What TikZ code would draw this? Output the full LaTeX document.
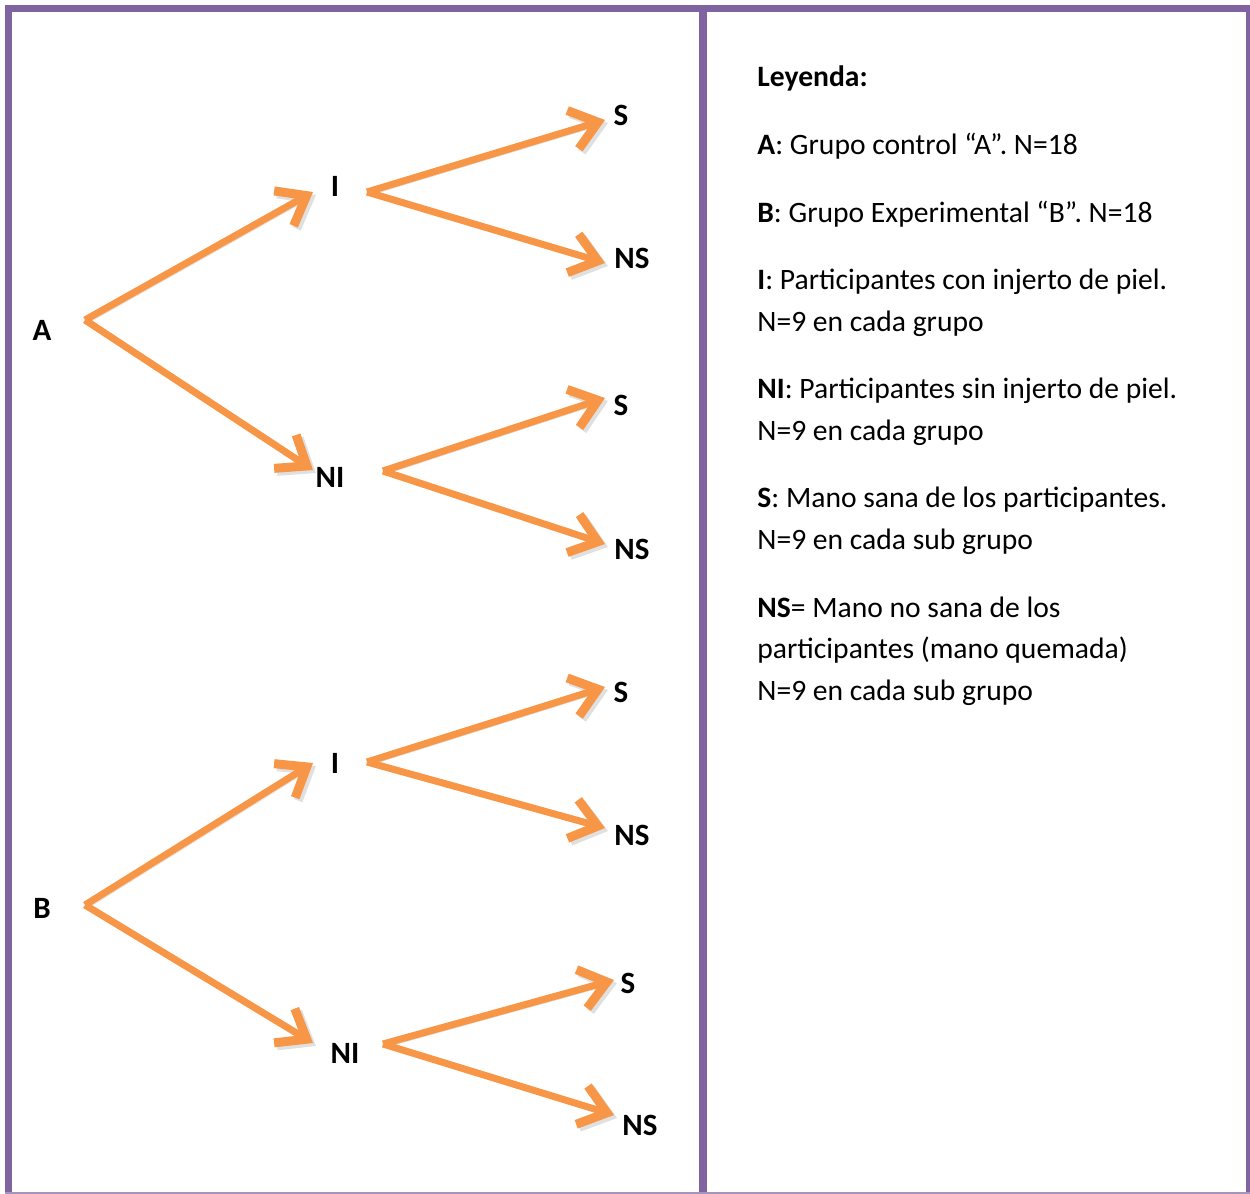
\documentclass[tikz,border=0pt]{standalone}
\usepackage{fontspec}
\setmainfont{Carlito}
\usepackage{xcolor}
\usetikzlibrary{arrows.meta}
\definecolor{marco}{HTML}{8064A2}
\definecolor{flecha}{HTML}{F79646}

\begin{document}
\begin{tikzpicture}[x=0.5pt,y=-0.5pt,
  branch/.style={flecha,line width=3.5pt,
    -{Straight Barb[length=13pt,width=20pt,line width=4.5pt]},
    preaction={draw=black!12,transform canvas={shift={(1.5pt,-1.5pt)}}}},
  lbl/.style={font=\fontsize{15.5}{18}\selectfont\bfseries,inner sep=0pt},
  legend/.style={font=\fontsize{14.8}{20.75}\selectfont,anchor=base west,align=left,inner sep=0pt}]
\useasboundingbox (0,0) rectangle (1250,1194);
%\draw[help lines] (0,0) grid (1250,1194);
% marco
\draw[marco,line width=3.5pt] (8.5,1194) -- (8.5,8.5) -- (1249,8.5) -- (1249,1194);
\draw[marco,line width=4pt] (703,8.5) -- (703,1194);
\draw[marco!70,line width=1pt] (5,1193) -- (1250,1193);
%a
\node[lbl] (A) at (42,330) {A};
\node[lbl] (AI) at (335,186) {I};
\node[lbl] (ANI) at (330,477) {NI};
\node[lbl] (AIS) at (621,115) {S};
\node[lbl] (AINS) at (632,258) {NS};
\node[lbl] (ANIS) at (621,405) {S};
\node[lbl] (ANINS) at (632,549) {NS};
\coordinate (a_0) at (85,320);
\coordinate (a_1) at (313,192);
\coordinate (a_2) at (313,470);
\coordinate (a_3) at (367,192);
\coordinate (a_4) at (605,120);
\coordinate (a_5) at (605,263);
\coordinate (a_6) at (383,471);
\coordinate (a_7) at (605,398);
\coordinate (a_8) at (605,544);
\draw[branch] (a_0) -- (a_1);
\draw[branch] (a_0) -- (a_2);
\draw[branch] (a_3) -- (a_4);
\draw[branch] (a_3) -- (a_5);
\draw[branch] (a_6) -- (a_7);
\draw[branch] (a_6) -- (a_8);
%b
\node[lbl] (B) at (42,908) {B};
\node[lbl] (BI) at (335,763) {I};
\node[lbl] (BNI) at (345,1053) {NI};
\node[lbl] (BIS) at (621,692) {S};
\node[lbl] (BINS) at (632,835) {NS};
\node[lbl] (BNIS) at (628,983) {S};
\node[lbl] (BNINS) at (640,1125) {NS};
\coordinate (b_0) at (85,905);
\coordinate (b_1) at (313,763);
\coordinate (b_2) at (313,1043);
\coordinate (b_3) at (367,762);
\coordinate (b_4) at (605,687);
\coordinate (b_5) at (605,828);
\coordinate (b_6) at (383,1044);
\coordinate (b_7) at (614,980);
\coordinate (b_8) at (614,1115);
\draw[branch] (b_0) -- (b_1);
\draw[branch] (b_0) -- (b_2);
\draw[branch] (b_3) -- (b_4);
\draw[branch] (b_3) -- (b_5);
\draw[branch] (b_6) -- (b_7);
\draw[branch] (b_6) -- (b_8);
% leyenda (base = ultima linea)
\node[legend] (ley) at (757,86) {\textbf{Leyenda:}};
\node[legend] (leyA) at (757,154) {\textbf{A}: Grupo control “A”. N=18};
\node[legend] (leyB) at (757,222) {\textbf{B}: Grupo Experimental “B”. N=18};
\node[legend] (leyI) at (757,331) {\textbf{I}: Participantes con injerto de piel.\\N=9 en cada grupo};
\node[legend] (leyNI) at (757,440) {\textbf{NI}: Participantes sin injerto de piel.\\N=9 en cada grupo};
\node[legend] (leyS) at (757,549) {\textbf{S}: Mano sana de los participantes.\\N=9 en cada sub grupo};
\node[legend] (leyNS) at (757,700) {\textbf{NS}= Mano no sana de los\\participantes (mano quemada)\\N=9 en cada sub grupo};
\end{tikzpicture}
\end{document}
